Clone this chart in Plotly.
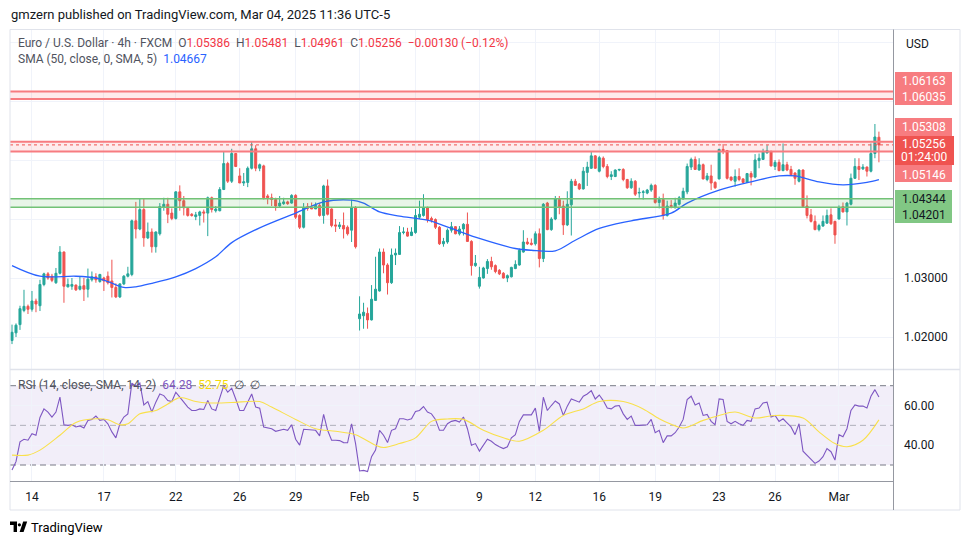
import plotly.graph_objects as go

# ---------------- data ----------------
opens = [
    1.0194, 1.0207, 1.0221, 1.0245, 1.0252, 1.0247, 1.0261, 1.0253, 1.0289, 1.0307,
    1.0303, 1.0292, 1.0308, 1.0344, 1.0285, 1.0286, 1.0288, 1.0281, 1.0287, 1.0281,
    1.0297, 1.0302, 1.0294, 1.0300, 1.0303, 1.0295, 1.0284, 1.0268, 1.0290, 1.0303,
    1.0306, 1.0397, 1.0383, 1.0416, 1.0368, 1.0378, 1.0353, 1.0375, 1.0420, 1.0425,
    1.0410, 1.0401, 1.0446, 1.0431, 1.0418, 1.0408, 1.0404, 1.0406, 1.0412, 1.0410,
    1.0436, 1.0414, 1.0414, 1.0450, 1.0494, 1.0464, 1.0511, 1.0473, 1.0461, 1.0462,
    1.0486, 1.0519, 1.0486, 1.0490, 1.0439, 1.0436, 1.0433, 1.0422, 1.0426, 1.0429,
    1.0427, 1.0440, 1.0406, 1.0386, 1.0421, 1.0420, 1.0417, 1.0423, 1.0406, 1.0456,
    1.0417, 1.0390, 1.0387, 1.0389, 1.0386, 1.0381, 1.0419, 1.0231, 1.0236, 1.0240,
    1.0229, 1.0262, 1.0278, 1.0344, 1.0322, 1.0292, 1.0339, 1.0340, 1.0377, 1.0378,
    1.0372, 1.0377, 1.0403, 1.0406, 1.0419, 1.0401, 1.0399, 1.0386, 1.0358, 1.0361,
    1.0381, 1.0387, 1.0375, 1.0383, 1.0391, 1.0362, 1.0321, 1.0286, 1.0300, 1.0316,
    1.0328, 1.0321, 1.0313, 1.0308, 1.0300, 1.0302, 1.0316, 1.0322, 1.0344, 1.0361,
    1.0359, 1.0358, 1.0375, 1.0333, 1.0427, 1.0382, 1.0400, 1.0433, 1.0422, 1.0390,
    1.0424, 1.0464, 1.0459, 1.0451, 1.0479, 1.0486, 1.0507, 1.0481, 1.0503, 1.0489,
    1.0472, 1.0472, 1.0483, 1.0484, 1.0467, 1.0453, 1.0464, 1.0444, 1.0445, 1.0444,
    1.0449, 1.0457, 1.0428, 1.0433, 1.0406, 1.0423, 1.0419, 1.0425, 1.0434, 1.0446,
    1.0488, 1.0501, 1.0483, 1.0492, 1.0467, 1.0473, 1.0462, 1.0468, 1.0518, 1.0516,
    1.0471, 1.0464, 1.0472, 1.0468, 1.0462, 1.0477, 1.0471, 1.0499, 1.0501, 1.0512,
    1.0514, 1.0489, 1.0496, 1.0482, 1.0492, 1.0484, 1.0478, 1.0464, 1.0483, 1.0422,
    1.0407, 1.0396, 1.0382, 1.0388, 1.0393, 1.0407, 1.0396, 1.0400, 1.0421, 1.0412,
    1.0425, 1.0469, 1.0489, 1.0485, 1.0488, 1.0481, 1.0511, 1.05386]
highs = [
    1.0221, 1.0223, 1.0253, 1.0280, 1.0255, 1.0278, 1.0265, 1.0297, 1.0309, 1.0310,
    1.0307, 1.0317, 1.0354, 1.0345, 1.0299, 1.0300, 1.0289, 1.0302, 1.0300, 1.0316,
    1.0311, 1.0308, 1.0307, 1.0302, 1.0311, 1.0331, 1.0291, 1.0291, 1.0305, 1.0319,
    1.0399, 1.0429, 1.0434, 1.0434, 1.0394, 1.0384, 1.0379, 1.0427, 1.0436, 1.0436,
    1.0418, 1.0447, 1.0457, 1.0439, 1.0419, 1.0410, 1.0412, 1.0414, 1.0416, 1.0438,
    1.0438, 1.0422, 1.0454, 1.0514, 1.0497, 1.0519, 1.0512, 1.0486, 1.0478, 1.0489,
    1.0532, 1.0525, 1.0494, 1.0492, 1.0442, 1.0443, 1.0436, 1.0439, 1.0436, 1.0431,
    1.0442, 1.0442, 1.0408, 1.0427, 1.0427, 1.0428, 1.0428, 1.0427, 1.0458, 1.0467,
    1.0418, 1.0400, 1.0395, 1.0411, 1.0389, 1.0433, 1.0422, 1.0269, 1.0258, 1.0250,
    1.0288, 1.0336, 1.0350, 1.0350, 1.0325, 1.0350, 1.0350, 1.0388, 1.0386, 1.0385,
    1.0386, 1.0417, 1.0431, 1.0442, 1.0421, 1.0404, 1.0401, 1.0388, 1.0368, 1.0384,
    1.0395, 1.0388, 1.0388, 1.0393, 1.0411, 1.0364, 1.0339, 1.0319, 1.0319, 1.0332,
    1.0336, 1.0323, 1.0315, 1.0310, 1.0306, 1.0319, 1.0330, 1.0350, 1.0381, 1.0368,
    1.0367, 1.0379, 1.0384, 1.0427, 1.0429, 1.0403, 1.0439, 1.0439, 1.0431, 1.0447,
    1.0468, 1.0468, 1.0461, 1.0488, 1.0497, 1.0514, 1.0508, 1.0507, 1.0506, 1.0493,
    1.0481, 1.0484, 1.0485, 1.0486, 1.0468, 1.0469, 1.0466, 1.0453, 1.0449, 1.0451,
    1.0460, 1.0459, 1.0438, 1.0443, 1.0431, 1.0432, 1.0436, 1.0439, 1.0453, 1.0494,
    1.0504, 1.0506, 1.0503, 1.0494, 1.0478, 1.0492, 1.0464, 1.0519, 1.0527, 1.0517,
    1.0472, 1.0484, 1.0486, 1.0469, 1.0478, 1.0481, 1.0510, 1.0511, 1.0519, 1.0525,
    1.0516, 1.0500, 1.0501, 1.0528, 1.0497, 1.0490, 1.0479, 1.0484, 1.0484, 1.0440,
    1.0417, 1.0406, 1.0392, 1.0406, 1.0416, 1.0418, 1.0397, 1.0423, 1.0428, 1.0429,
    1.0477, 1.0503, 1.0503, 1.0493, 1.0489, 1.0528, 1.0561, 1.05481]
lows = [
    1.0188, 1.0200, 1.0212, 1.0242, 1.0239, 1.0243, 1.0242, 1.0244, 1.0286, 1.0297,
    1.0293, 1.0290, 1.0306, 1.0258, 1.0284, 1.0280, 1.0278, 1.0279, 1.0261, 1.0267,
    1.0294, 1.0292, 1.0292, 1.0278, 1.0289, 1.0267, 1.0266, 1.0266, 1.0288, 1.0301,
    1.0303, 1.0367, 1.0381, 1.0353, 1.0366, 1.0343, 1.0343, 1.0372, 1.0414, 1.0393,
    1.0398, 1.0399, 1.0414, 1.0406, 1.0404, 1.0404, 1.0398, 1.0389, 1.0394, 1.0371,
    1.0411, 1.0411, 1.0413, 1.0449, 1.0461, 1.0461, 1.0488, 1.0461, 1.0456, 1.0454,
    1.0484, 1.0481, 1.0481, 1.0433, 1.0425, 1.0422, 1.0414, 1.0419, 1.0424, 1.0424,
    1.0426, 1.0400, 1.0383, 1.0384, 1.0414, 1.0417, 1.0417, 1.0404, 1.0392, 1.0406,
    1.0386, 1.0378, 1.0383, 1.0367, 1.0372, 1.0361, 1.0350, 1.0211, 1.0214, 1.0214,
    1.0228, 1.0261, 1.0277, 1.0308, 1.0272, 1.0290, 1.0322, 1.0339, 1.0374, 1.0370,
    1.0371, 1.0375, 1.0400, 1.0404, 1.0394, 1.0394, 1.0383, 1.0356, 1.0353, 1.0358,
    1.0377, 1.0374, 1.0372, 1.0372, 1.0361, 1.0304, 1.0319, 1.0282, 1.0299, 1.0307,
    1.0314, 1.0308, 1.0305, 1.0299, 1.0293, 1.0301, 1.0315, 1.0321, 1.0343, 1.0356,
    1.0355, 1.0355, 1.0318, 1.0327, 1.0381, 1.0380, 1.0398, 1.0408, 1.0373, 1.0388,
    1.0372, 1.0456, 1.0449, 1.0450, 1.0456, 1.0485, 1.0485, 1.0479, 1.0486, 1.0469,
    1.0466, 1.0471, 1.0481, 1.0464, 1.0451, 1.0451, 1.0439, 1.0436, 1.0433, 1.0442,
    1.0446, 1.0426, 1.0418, 1.0399, 1.0404, 1.0418, 1.0418, 1.0423, 1.0433, 1.0442,
    1.0483, 1.0483, 1.0482, 1.0467, 1.0464, 1.0449, 1.0451, 1.0467, 1.0510, 1.0467,
    1.0464, 1.0455, 1.0464, 1.0461, 1.0461, 1.0457, 1.0469, 1.0486, 1.0500, 1.0511,
    1.0489, 1.0483, 1.0481, 1.0481, 1.0481, 1.0473, 1.0458, 1.0462, 1.0419, 1.0401,
    1.0394, 1.0381, 1.0379, 1.0387, 1.0392, 1.0390, 1.0358, 1.0399, 1.0411, 1.0389,
    1.0423, 1.0468, 1.0466, 1.0483, 1.0472, 1.0479, 1.0503, 1.04961]
closes = [
    1.0208, 1.0220, 1.0248, 1.0252, 1.0247, 1.0261, 1.0256, 1.0289, 1.0307, 1.0300,
    1.0296, 1.0308, 1.0344, 1.0286, 1.0289, 1.0289, 1.0280, 1.0286, 1.0281, 1.0298,
    1.0302, 1.0297, 1.0306, 1.0295, 1.0292, 1.0284, 1.0268, 1.0290, 1.0303, 1.0307,
    1.0397, 1.0383, 1.0416, 1.0368, 1.0378, 1.0353, 1.0378, 1.0421, 1.0425, 1.0408,
    1.0401, 1.0446, 1.0431, 1.0419, 1.0406, 1.0406, 1.0407, 1.0412, 1.0410, 1.0436,
    1.0416, 1.0417, 1.0450, 1.0494, 1.0464, 1.0511, 1.0489, 1.0461, 1.0463, 1.0486,
    1.0519, 1.0486, 1.0492, 1.0436, 1.0436, 1.0433, 1.0422, 1.0427, 1.0429, 1.0426,
    1.0440, 1.0403, 1.0386, 1.0419, 1.0418, 1.0417, 1.0423, 1.0406, 1.0456, 1.0408,
    1.0389, 1.0388, 1.0390, 1.0383, 1.0375, 1.0419, 1.0353, 1.0239, 1.0242, 1.0229,
    1.0264, 1.0281, 1.0344, 1.0322, 1.0292, 1.0339, 1.0342, 1.0377, 1.0378, 1.0371,
    1.0378, 1.0406, 1.0408, 1.0419, 1.0399, 1.0398, 1.0386, 1.0358, 1.0362, 1.0381,
    1.0387, 1.0375, 1.0383, 1.0391, 1.0362, 1.0321, 1.0325, 1.0301, 1.0317, 1.0328,
    1.0319, 1.0311, 1.0307, 1.0300, 1.0304, 1.0318, 1.0323, 1.0347, 1.0361, 1.0358,
    1.0357, 1.0375, 1.0333, 1.0425, 1.0382, 1.0400, 1.0434, 1.0421, 1.0390, 1.0425,
    1.0464, 1.0457, 1.0451, 1.0481, 1.0488, 1.0507, 1.0486, 1.0504, 1.0489, 1.0472,
    1.0475, 1.0483, 1.0484, 1.0467, 1.0453, 1.0464, 1.0442, 1.0445, 1.0446, 1.0449,
    1.0457, 1.0428, 1.0433, 1.0406, 1.0422, 1.0421, 1.0427, 1.0436, 1.0447, 1.0489,
    1.0501, 1.0484, 1.0492, 1.0468, 1.0473, 1.0461, 1.0453, 1.0518, 1.0516, 1.0469,
    1.0466, 1.0472, 1.0467, 1.0462, 1.0477, 1.0471, 1.0500, 1.0503, 1.0514, 1.0516,
    1.0490, 1.0496, 1.0482, 1.0492, 1.0483, 1.0475, 1.0469, 1.0483, 1.0421, 1.0406,
    1.0396, 1.0382, 1.0389, 1.0396, 1.0406, 1.0392, 1.0373, 1.0419, 1.0412, 1.0427,
    1.0469, 1.0489, 1.0484, 1.0488, 1.0481, 1.0511, 1.0539, 1.05256]

# SMA(50) line, read at sample bars
sma_idx = [0, 7, 16, 21, 24, 28, 31, 35, 41, 46, 51, 55, 62, 71, 78, 85, 88, 92, 97,
           104, 110, 117, 126, 130, 136, 141, 147, 155, 165, 169, 177, 185, 192, 196,
           202, 208, 214, 217]
sma_val = [1.0321, 1.0303, 1.0303, 1.0300, 1.0294, 1.0284, 1.0285, 1.0291, 1.0302,
           1.0316, 1.0336, 1.0360, 1.0385, 1.0410, 1.0429, 1.0432, 1.0427, 1.0412,
           1.0405, 1.0398, 1.0384, 1.0367, 1.0350, 1.0347, 1.0346, 1.0364, 1.0384,
           1.0397, 1.0410, 1.0427, 1.0449, 1.0463, 1.0473, 1.0473, 1.0463, 1.0458,
           1.0462, 1.04667]

rsi = [
    27.5, 31.7, 41.7, 43.0, 42.5, 45.8, 45.0, 54.0, 58.3, 56.7,
    54.2, 56.7, 64.2, 50.3, 50.0, 50.3, 49.2, 49.7, 48.7, 52.5,
    53.0, 54.7, 52.5, 53.0, 50.8, 46.7, 43.7, 50.8, 54.2, 55.8,
    71.3, 69.7, 71.3, 60.3, 62.0, 56.7, 61.7, 65.8, 65.0, 62.5,
    62.0, 66.7, 64.2, 61.7, 59.2, 57.5, 57.5, 58.3, 58.0, 62.5,
    58.3, 57.5, 63.3, 70.0, 66.7, 68.7, 63.3, 57.5, 57.5, 61.3,
    65.8, 59.2, 58.7, 49.2, 48.8, 48.3, 47.0, 47.5, 48.0, 47.5,
    50.3, 43.0, 40.0, 48.0, 47.8, 47.8, 47.5, 44.7, 55.5, 47.5,
    42.5, 42.5, 42.3, 41.3, 41.2, 50.8, 40.8, 27.0, 27.3, 26.7,
    34.2, 37.5, 47.5, 45.0, 41.3, 47.5, 48.3, 53.3, 53.3, 52.7,
    53.3, 57.0, 57.5, 59.5, 56.7, 55.8, 53.0, 47.5, 47.5, 50.8,
    52.0, 52.5, 51.7, 54.2, 48.3, 40.0, 40.8, 37.0, 40.0, 43.0,
    42.0, 40.3, 39.2, 38.3, 39.2, 43.7, 45.3, 52.0, 55.3, 55.3,
    55.3, 58.7, 47.0, 64.2, 57.5, 60.0, 62.3, 60.8, 55.0, 59.7,
    63.3, 62.5, 61.7, 64.7, 65.8, 67.5, 63.3, 65.3, 62.5, 58.7,
    58.3, 59.7, 60.0, 55.8, 53.0, 54.7, 50.0, 50.0, 50.0, 50.3,
    53.0, 46.3, 47.5, 41.3, 44.7, 44.7, 46.3, 49.2, 53.0, 63.0,
    64.7, 60.3, 61.3, 55.0, 55.5, 52.0, 50.3, 63.3, 63.0, 52.0,
    50.8, 52.0, 50.8, 50.0, 52.5, 52.0, 58.3, 58.7, 61.3, 61.7,
    54.2, 55.0, 52.0, 53.3, 51.3, 49.2, 45.3, 50.8, 37.0, 35.0,
    33.3, 30.8, 32.0, 34.2, 38.3, 36.7, 32.5, 45.3, 44.2, 48.3,
    57.5, 60.3, 59.7, 59.7, 58.7, 64.7, 68.0, 64.28]

rsi_ma_idx = [0, 4, 7, 12, 16, 21, 24, 27, 29, 32, 36, 39, 42, 46, 49, 55, 62, 65,
              71, 76, 81, 86, 91, 93, 97, 101, 105, 109, 113, 118, 123, 127, 133,
              138, 143, 147, 153, 158, 162, 165, 168, 173, 177, 181, 186, 191, 198,
              202, 206, 209, 213, 217]
rsi_ma_val = [35, 35, 37.5, 45, 51.5, 53.3, 52.8, 50.3, 50.8, 55.8, 57.5, 60.8, 64,
              62, 61.3, 61.5, 62, 59.2, 53, 48.3, 47, 45.3, 40, 38.8, 40.8, 43.7, 52,
              53.2, 53, 47.5, 43.7, 42, 47.5, 55, 58.3, 62, 62, 58.3, 53.3, 50.5,
              48.7, 52.5, 55, 56.7, 53.7, 55, 53.7, 46.7, 40.8, 39.2, 42.5, 52.75]

tick_index = [5, 23, 41, 57, 71, 87, 101, 117, 131, 147, 161, 177, 191, 207]
tick_labels = ["14", "17", "22", "26", "29", "Feb", "5", "9", "12", "16", "19",
               "23", "26", "Mar"]

red_zone_top = (1.06035, 1.06163)
red_zone_mid = (1.05146, 1.05308)
green_zone = (1.04201, 1.04344)
last_price = 1.05256
countdown = "01:24:00"

# ---------------- geometry ----------------
W, H = 970, 545
FONT = "Roboto"
X0, X1 = 10, 893
P_TOP, P_BOT = 30, 369
R_TOP, R_BOT = 370, 481
BAR0_X, BAR_PX = 12.0, 3.995
PRICE_REF, PRICE_REF_Y, PX_PER = 1.03, 278.0, 5900.0
RSI70_Y, RSI30_Y = 385.7, 465.0


def fx(x):
    return x / W


def fy(y):
    return 1 - y / H


def price_at(y):
    return PRICE_REF + (PRICE_REF_Y - y) / PX_PER


def rsi_at(y):
    return 30 + (RSI30_Y - y) * 40.0 / (RSI30_Y - RSI70_Y)


n = len(closes)
idx = list(range(n))
x_range = [(X0 - BAR0_X) / BAR_PX, (X1 - BAR0_X) / BAR_PX]

UP, DOWN = "#26a69a", "#ef5350"
ZONE_RED, ZONE_GREEN = "#f77c80", "#81c784"
GRID = "#f0f3fa"
TXT = "#131722"
GREY = "#50535e"

fig = go.Figure()
fig.add_trace(go.Candlestick(
    x=idx, open=opens, high=highs, low=lows, close=closes,
    increasing=dict(line=dict(color=UP, width=1), fillcolor=UP),
    decreasing=dict(line=dict(color=DOWN, width=1), fillcolor=DOWN),
    xaxis="x", yaxis="y", hoverinfo="skip"))
fig.add_trace(go.Scatter(
    x=sma_idx, y=sma_val, mode="lines", xaxis="x", yaxis="y",
    line=dict(color="#2962ff", width=1.3, shape="spline", smoothing=0.9),
    hoverinfo="skip"))
fig.add_trace(go.Scatter(
    x=idx, y=rsi, mode="lines", xaxis="x2", yaxis="y2",
    line=dict(color="#7e57c2", width=1.1), hoverinfo="skip"))
fig.add_trace(go.Scatter(
    x=rsi_ma_idx, y=rsi_ma_val, mode="lines", xaxis="x2", yaxis="y2",
    line=dict(color="#f9e04b", width=1.1, shape="spline", smoothing=0.9),
    hoverinfo="skip"))

shapes = []
# zones (drawn above the candles, like TradingView drawings)
for (lo, hi), lc, fc, lw in [(red_zone_top, ZONE_RED, "rgba(242,54,69,0.10)", 2),
                             (red_zone_mid, ZONE_RED, "rgba(242,54,69,0.10)", 2),
                             (green_zone, "#72c276", "rgba(76,175,80,0.13)", 1.5)]:
    shapes.append(dict(type="rect", xref="x domain", yref="y", x0=0, x1=1, y0=lo, y1=hi,
                       fillcolor=fc, line=dict(width=0), layer="above"))
    for v in (lo, hi):
        shapes.append(dict(type="line", xref="x domain", yref="y", x0=0, x1=1, y0=v, y1=v,
                           line=dict(color=lc, width=lw), layer="above"))
shapes.append(dict(type="line", xref="x domain", yref="y", x0=0, x1=1,
                   y0=last_price, y1=last_price,
                   line=dict(color=DOWN, width=1, dash="dot"), layer="above"))
# RSI band
shapes.append(dict(type="rect", xref="x2 domain", yref="y2", x0=0, x1=1, y0=30, y1=70,
                   fillcolor="rgba(126,87,194,0.10)", line=dict(width=0), layer="below"))
for v, c in [(70, "#787b86"), (50, "rgba(120,123,134,0.55)"), (30, "#787b86")]:
    shapes.append(dict(type="line", xref="x2 domain", yref="y2", x0=0, x1=1, y0=v, y1=v,
                       line=dict(color=c, width=1, dash="6px,4px"), layer="below"))
# frame lines
shapes += [
    dict(type="rect", xref="paper", yref="paper", x0=fx(10), x1=fx(960), y0=fy(510),
         y1=fy(29.5), line=dict(color="#e0e3eb", width=1), layer="above"),
    dict(type="line", xref="paper", yref="paper", x0=fx(10), x1=fx(960), y0=fy(369.5),
         y1=fy(369.5), line=dict(color="#e0e3eb", width=1.5), layer="above"),
    dict(type="line", xref="paper", yref="paper", x0=fx(893.5), x1=fx(893.5),
         y0=fy(510), y1=fy(29.5), line=dict(color="#9598a1", width=1), layer="above"),
    dict(type="line", xref="paper", yref="paper", x0=fx(10), x1=fx(893.5), y0=fy(481.5),
         y1=fy(481.5), line=dict(color="#9598a1", width=1), layer="above"),
]
# price-scale label boxes
for y0, y1, c, x1 in [(72, 105, ZONE_RED, 952), (118, 137, ZONE_RED, 952),
                      (136, 165, DOWN, 954), (165, 182, ZONE_RED, 952),
                      (190, 223, ZONE_GREEN, 952)]:
    shapes.append(dict(type="rect", xref="paper", yref="paper", x0=fx(895), x1=fx(x1),
                       y0=fy(y1), y1=fy(y0), fillcolor=c, line=dict(width=0),
                       layer="above"))
# TradingView logo glyph
shapes += [
    dict(type="path", xref="paper", yref="paper", layer="above", fillcolor="#000000",
         line=dict(width=0),
         path=f"M{fx(10)},{fy(521.5)} L{fx(17)},{fy(521.5)} L{fx(17)},{fy(532)} "
              f"L{fx(13.6)},{fy(532)} L{fx(13.6)},{fy(525)} L{fx(10)},{fy(525)} Z"),
    dict(type="circle", xref="paper", yref="paper", layer="above", fillcolor="#000000",
         line=dict(width=0), x0=fx(17.8), x1=fx(21.0), y0=fy(526.4), y1=fy(523.2)),
    dict(type="path", xref="paper", yref="paper", layer="above", fillcolor="#000000",
         line=dict(width=0),
         path=f"M{fx(23.2)},{fy(521.5)} L{fx(27.2)},{fy(521.5)} L{fx(23.6)},{fy(532)} "
              f"L{fx(19.6)},{fy(532)} Z"),
]

NB = "\u00a0"


def span(t, c):
    return f'<span style="color:{c}">{t}</span>'


R = "#f23645"
chg = closes[-1] - opens[-1]
pct = chg / opens[-1] * 100
legend1 = (span(f"Euro / U.S. Dollar · 4h · FXCM{NB}{NB}", GREY)
           + span("O", GREY) + span(f"{opens[-1]:.5f}{NB}{NB}", R)
           + span("H", GREY) + span(f"{highs[-1]:.5f}{NB}{NB}", R)
           + span("L", GREY) + span(f"{lows[-1]:.5f}{NB}{NB}", R)
           + span("C", GREY) + span(f"{closes[-1]:.5f}{NB}{NB}", R)
           + span(f"−{abs(chg):.5f} (−{abs(pct):.2f}%)", R))
legend2 = span(f"SMA (50, close, 0, SMA, 5){NB}{NB}", GREY) + span(f"{sma_val[-1]:.5f}", "#2962ff")
legend3 = (span(f"RSI (14, close, SMA, 14, 2){NB}{NB}", GREY) + span(f"{rsi[-1]:.2f}{NB}{NB}", "#7e57c2")
           + span(f"{rsi_ma_val[-1]:.2f}{NB}{NB}", "#f5d90a") + span(f"∅{NB}{NB}∅", GREY))

ann = []


def add_text(x, y, text, size=12, color=TXT, xanchor="left"):
    ann.append(dict(x=fx(x), y=fy(y), xref="paper", yref="paper", text=text,
                    showarrow=False, xanchor=xanchor, yanchor="middle",
                    font=dict(family=FONT, size=size, color=color)))


add_text(9, 14, "gmzern published on TradingView.com, Mar 04, 2025 11:36 UTC-5", 13, TXT)
add_text(16, 43, legend1, 12)
add_text(16, 59, legend2, 12)
add_text(16, 385, legend3, 12)
add_text(917, 44, "USD", 12, TXT, "center")
for v, y, c in [(red_zone_top[1], 80.7, "white"), (red_zone_top[0], 97.3, "white"),
                (red_zone_mid[1], 126.7, "white"), (last_price, 143.5, "white"),
                (red_zone_mid[0], 174.5, "white"), (green_zone[1], 199.3, TXT),
                (green_zone[0], 215, TXT)]:
    add_text(924, y, f"{v:.5f}", 12, c, "center")
add_text(924, 157, countdown, 12, "white", "center")
add_text(29, 527, "TradingView", 13, "#000000")

fig.update_layout(
    width=W, height=H, margin=dict(l=0, r=0, t=0, b=0),
    paper_bgcolor="white", plot_bgcolor="white",
    showlegend=False, hovermode=False, boxgap=0.28,
    shapes=shapes, annotations=ann,
    font=dict(family=FONT, color=TXT),
    xaxis=dict(domain=[fx(X0), fx(X1)], range=x_range, anchor="y",
               tickvals=tick_index, showticklabels=False, ticks="",
               showgrid=True, gridcolor=GRID, zeroline=False, showline=False,
               rangeslider=dict(visible=False), fixedrange=True),
    xaxis2=dict(domain=[fx(X0), fx(X1)], range=x_range, anchor="y2", matches="x",
                tickvals=tick_index, ticktext=tick_labels, ticks="",
                tickfont=dict(family=FONT, size=12, color=TXT), ticklabelstandoff=7,
                showgrid=True, gridcolor=GRID, zeroline=False, showline=False,
                rangeslider=dict(visible=False)),
    yaxis=dict(domain=[fy(P_BOT), fy(P_TOP)], range=[price_at(P_BOT), price_at(P_TOP)],
               anchor="x", side="right",
               tickvals=[1.02, 1.03, 1.04, 1.05, 1.06, 1.07],
               ticktext=["1.02000", "1.03000", "", "", "", ""], ticks="",
               tickfont=dict(family=FONT, size=12, color=TXT), ticklabelstandoff=10,
               showgrid=True, gridcolor=GRID, zeroline=False, showline=False),
    yaxis2=dict(domain=[fy(R_BOT), fy(R_TOP)], range=[rsi_at(R_BOT), rsi_at(R_TOP)],
                anchor="x2", side="right", tickvals=[40, 60], ticktext=["40.00", "60.00"],
                ticks="", tickfont=dict(family=FONT, size=12, color=TXT),
                ticklabelstandoff=10, showgrid=True, gridcolor=GRID, zeroline=False,
                showline=False),
)

fig.write_html("out.html", config={"displayModeBar": False, "staticPlot": True})

# remove the browser's default page margin so the figure sits at (0, 0)
with open("out.html", "r", encoding="utf-8") as fh:
    page = fh.read()
page = page.replace("<head>", "<head><style>html,body{margin:0;padding:0;overflow:hidden}</style>", 1)
with open("out.html", "w", encoding="utf-8") as fh:
    fh.write(page)
